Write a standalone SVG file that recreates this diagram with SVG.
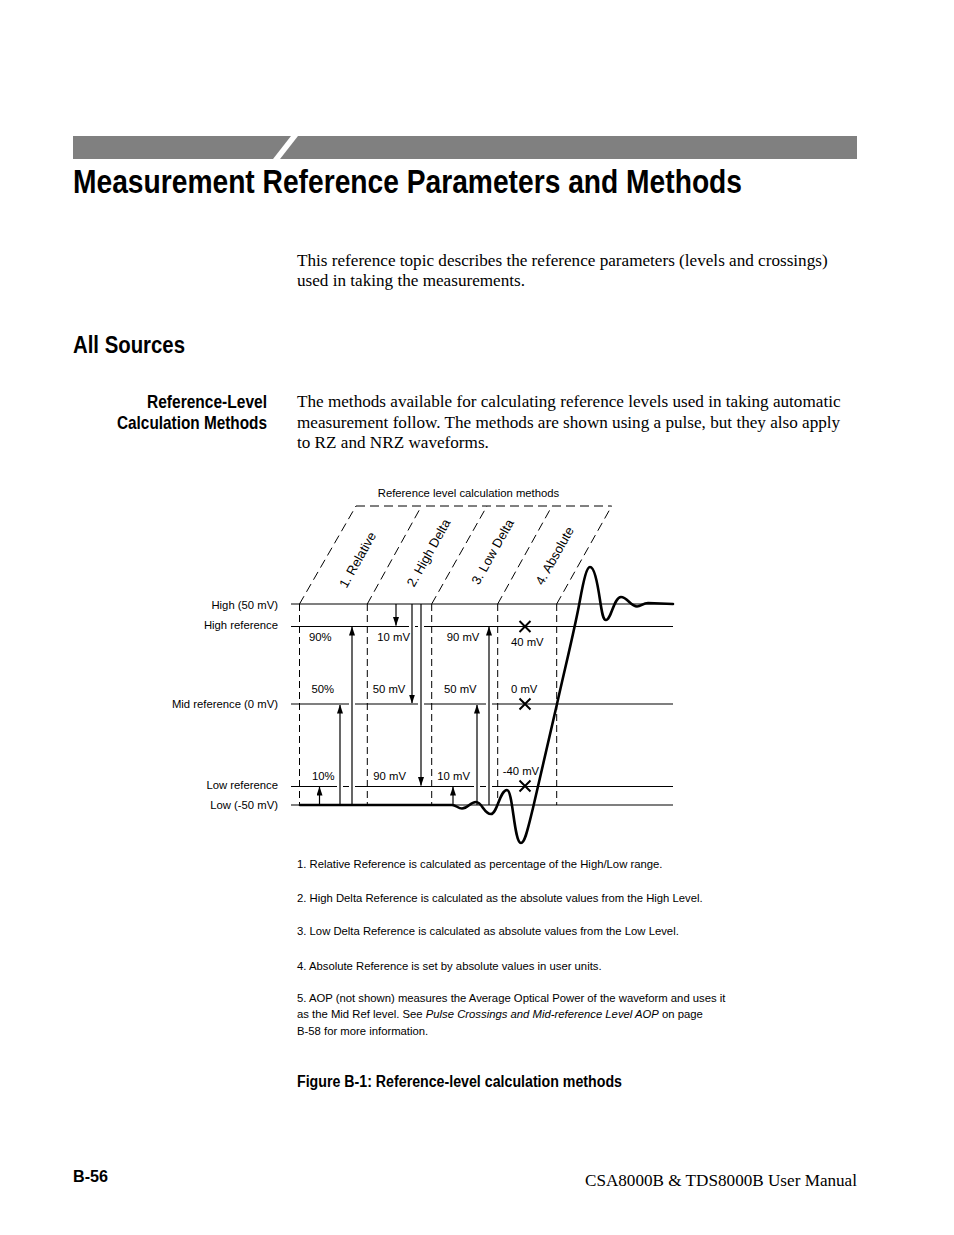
<svg xmlns="http://www.w3.org/2000/svg" width="954" height="1235" viewBox="0 0 954 1235">
<style>
.hd{font-family:"Liberation Sans Narrow","Liberation Sans",Arial,sans-serif;font-weight:bold;fill:#000}
.sr{font-family:"Liberation Serif","Times New Roman",serif;font-size:17.15px;fill:#000}
.sm{font-family:"Liberation Sans",Arial,sans-serif;font-size:11.3px;fill:#000}
.rt{font-family:"Liberation Sans",Arial,sans-serif;font-size:13px;fill:#000;text-anchor:middle}
.lv{stroke:#000;stroke-width:1.2;fill:none}
.dv{stroke:#000;stroke-width:1;stroke-dasharray:7 4;fill:none}
.dg{stroke:#000;stroke-width:1;stroke-dasharray:9 5;fill:none}
.ar{stroke:#000;stroke-width:1.2;fill:none;marker-end:url(#ah)}
.gp{fill:#fff}
.xm{stroke:#000;stroke-width:2;fill:none}
</style>
<defs>
<marker id="ah" markerUnits="userSpaceOnUse" markerWidth="9" markerHeight="6" refX="8.5" refY="3" orient="auto">
<path d="M0,0 L9,3 L0,6 z" fill="#000"/>
</marker>
</defs>
<rect width="954" height="1235" fill="#fff"/>

<g id="header">
<polygon points="73,136 291,136 273,159 73,159" fill="#808080"/>
<polygon points="298,136 857,136 857,159 280,159" fill="#808080"/>
<text class="hd" x="73" y="193" font-size="33" textLength="669" lengthAdjust="spacingAndGlyphs">Measurement Reference Parameters and Methods</text>
</g>

<g id="intro">
<text class="sr" x="297" y="266">This reference topic describes the reference parameters (levels and crossings)</text>
<text class="sr" x="297" y="286">used in taking the measurements.</text>
</g>

<g id="section-heading">
<text class="hd" x="73" y="353" font-size="23" textLength="112" lengthAdjust="spacingAndGlyphs">All Sources</text>
</g>

<g id="side-heading">
<text class="hd" x="267" y="407.5" font-size="19" text-anchor="end" textLength="120" lengthAdjust="spacingAndGlyphs">Reference-Level</text>
<text class="hd" x="267" y="429" font-size="19" text-anchor="end" textLength="150" lengthAdjust="spacingAndGlyphs">Calculation Methods</text>
</g>

<g id="paragraph">
<text class="sr" x="297" y="407">The methods available for calculating reference levels used in taking automatic</text>
<text class="sr" x="297" y="428">measurement follow. The methods are shown using a pulse, but they also apply</text>
<text class="sr" x="297" y="448">to RZ and NRZ waveforms.</text>
</g>

<g id="diagram">
<text class="sm" x="468.5" y="496.5" text-anchor="middle">Reference level calculation methods</text>

<g id="method-frame">
<line class="dg" x1="356" y1="506" x2="611.7" y2="506"/>
<line class="dg" x1="299.5" y1="604" x2="356" y2="506"/>
<line class="dg" x1="367.3" y1="604" x2="421.5" y2="506"/>
<line class="dg" x1="431.7" y1="604" x2="487" y2="506"/>
<line class="dg" x1="497.7" y1="604" x2="552" y2="506"/>
<line class="dg" x1="556.7" y1="604" x2="611.7" y2="506"/>
<line class="dv" x1="299.5" y1="604" x2="299.5" y2="805"/>
<line class="dv" x1="367.3" y1="604" x2="367.3" y2="805"/>
<line class="dv" x1="431.7" y1="604" x2="431.7" y2="805"/>
<line class="dv" x1="497.7" y1="604" x2="497.7" y2="805"/>
<line class="dv" x1="556.7" y1="604" x2="556.7" y2="805"/>
</g>

<g id="method-labels">
<text class="rt" transform="translate(361.5,562) rotate(-60.7)">1. Relative</text>
<text class="rt" transform="translate(432.5,555) rotate(-60.7)">2. High Delta</text>
<text class="rt" transform="translate(496.5,554) rotate(-60.7)">3. Low Delta</text>
<text class="rt" transform="translate(558.5,558) rotate(-60.7)">4. Absolute</text>
</g>

<g id="levels">
<line class="lv" x1="291" y1="604" x2="673" y2="604"/>
<line class="lv" x1="291" y1="626.5" x2="673" y2="626.5"/>
<line class="lv" x1="291" y1="704" x2="673" y2="704"/>
<line class="lv" x1="291" y1="786.5" x2="673" y2="786.5"/>
<line class="lv" x1="291" y1="805" x2="673" y2="805"/>
<rect class="gp" x="409" y="624.5" width="6" height="4"/>
<rect class="gp" x="418" y="624.5" width="6" height="4"/>
<rect class="gp" x="349" y="702" width="6" height="4"/>
<rect class="gp" x="418" y="702" width="6" height="4"/>
<rect class="gp" x="486" y="702" width="6" height="4"/>
<rect class="gp" x="337" y="784.5" width="6" height="4"/>
<rect class="gp" x="349" y="784.5" width="6" height="4"/>
<rect class="gp" x="474" y="784.5" width="6" height="4"/>
<rect class="gp" x="486" y="784.5" width="6" height="4"/>
</g>

<g id="level-labels">
<text class="sm" x="278" y="608.5" text-anchor="end">High (50 mV)</text>
<text class="sm" x="278" y="629" text-anchor="end">High reference</text>
<text class="sm" x="278" y="708" text-anchor="end">Mid reference (0 mV)</text>
<text class="sm" x="278" y="789" text-anchor="end">Low reference</text>
<text class="sm" x="278" y="808.5" text-anchor="end">Low (-50 mV)</text>
</g>

<g id="value-labels">
<text class="sm" x="309" y="640.5">90%</text>
<text class="sm" x="311.5" y="693.3">50%</text>
<text class="sm" x="312" y="780">10%</text>
<text class="sm" x="377.3" y="640.5">10 mV</text>
<text class="sm" x="372.7" y="693.3">50 mV</text>
<text class="sm" x="373.3" y="780">90 mV</text>
<text class="sm" x="446.7" y="640.5">90 mV</text>
<text class="sm" x="444" y="693.3">50 mV</text>
<text class="sm" x="437.3" y="780">10 mV</text>
<text class="sm" x="511" y="645.7">40 mV</text>
<text class="sm" x="511" y="693.3">0 mV</text>
<text class="sm" x="502.7" y="775">-40 mV</text>
</g>

<g id="absolute-marks">
<path class="xm" d="M519.5,621 L530.5,632 M530.5,621 L519.5,632"/>
<path class="xm" d="M519.5,698.5 L530.5,709.5 M530.5,698.5 L519.5,709.5"/>
<path class="xm" d="M519.5,780.5 L530.5,791.5 M530.5,780.5 L519.5,791.5"/>
</g>

<g id="connectors">
<line class="ar" x1="319.5" y1="805" x2="319.5" y2="787"/>
<line class="ar" x1="340" y1="805" x2="340" y2="705"/>
<line class="ar" x1="352" y1="805" x2="352" y2="627"/>
<line class="ar" x1="396" y1="604" x2="396" y2="625.5"/>
<line class="ar" x1="412" y1="604" x2="412" y2="703"/>
<line class="ar" x1="421" y1="604" x2="421" y2="785.5"/>
<line class="ar" x1="453" y1="805" x2="453" y2="787"/>
<line class="ar" x1="477" y1="805" x2="477" y2="705"/>
<line class="ar" x1="489" y1="805" x2="489" y2="627"/>
</g>

<g id="waveform">
<path d="M300,805 L452,805 C456,805 458,808.5 462,808.5 C468,808.5 470,802 476,802 C482,802 484,814 491,814 C497,814 500,790 507,790 C513,790 514,843 521,843 C525,843 528,828 533,808 L557,704 C565,668 575,628 580,600 C584,578 587,567 590,567 C594,567 597,580 600,600 C602,613 603,620 606,620 C611,620 614,597 621,597 C627,597 631,606.5 637,606.5 C641,606.5 643,603 648,603 L673,604" fill="none" stroke="#000" stroke-width="2.6" stroke-linejoin="round" stroke-linecap="round"/>
</g>
</g>

<g id="footnotes">
<text class="sm" x="297" y="868">1. Relative Reference is calculated as percentage of the High/Low range.</text>
<text class="sm" x="297" y="901.5">2. High Delta Reference is calculated as the absolute values from the High Level.</text>
<text class="sm" x="297" y="935">3. Low Delta Reference is calculated as absolute values from the Low Level.</text>
<text class="sm" x="297" y="969.5">4. Absolute Reference is set by absolute values in user units.</text>
<text class="sm" x="297" y="1002">5. AOP (not shown) measures the Average Optical Power of the waveform and uses it</text>
<text class="sm" x="297" y="1018">as the Mid Ref level. See <tspan font-style="italic">Pulse Crossings and Mid-reference Level AOP</tspan> on page</text>
<text class="sm" x="297" y="1034.5">B-58 for more information.</text>
</g>

<g id="caption">
<text class="hd" x="297" y="1087" font-size="16" textLength="325" lengthAdjust="spacingAndGlyphs">Figure B-1: Reference-level calculation methods</text>
</g>

<g id="footer">
<text class="hd" x="73" y="1182" font-size="16" textLength="35" lengthAdjust="spacingAndGlyphs">B-56</text>
<text class="sr" x="857" y="1185.5" text-anchor="end">CSA8000B &amp; TDS8000B User Manual</text>
</g>
</svg>
